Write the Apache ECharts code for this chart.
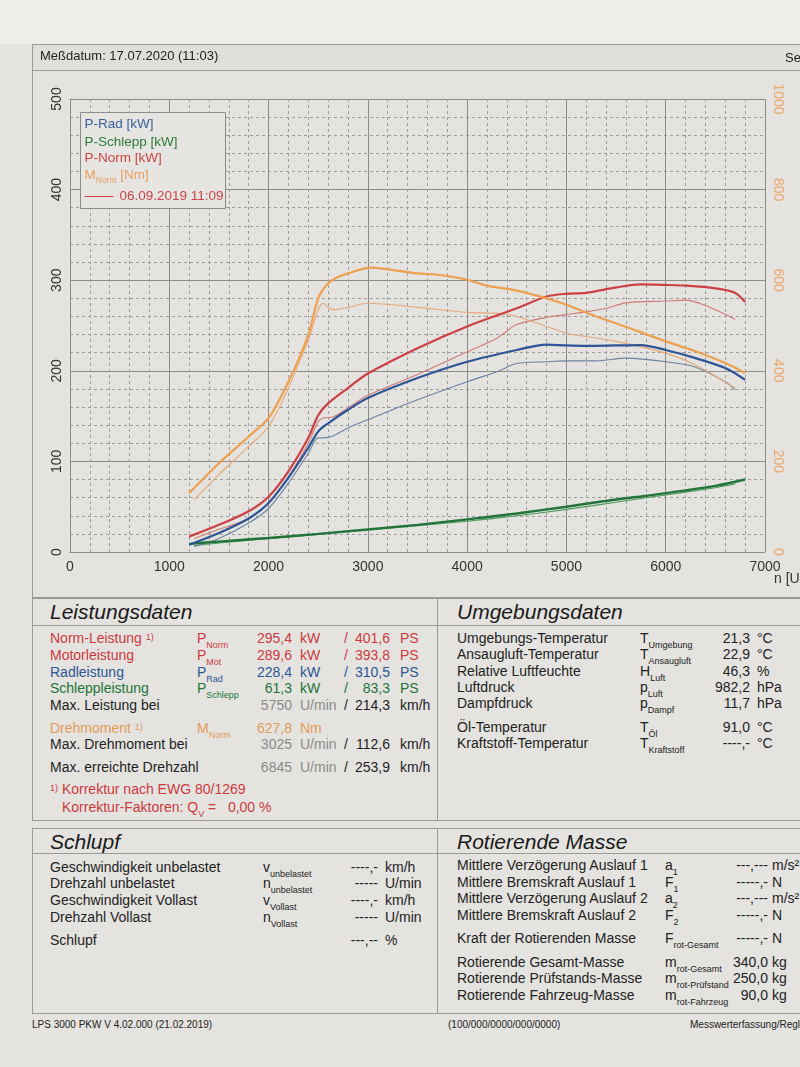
<!DOCTYPE html>
<html><head><meta charset="utf-8">
<script src="https://cdn.jsdelivr.net/npm/echarts@6/dist/echarts.min.js"></script>
<style>
html,body{margin:0;padding:0;}
body{width:800px;height:1067px;overflow:hidden;position:relative;background:#e4e3df;font-family:"Liberation Sans",Arial,sans-serif;color:#222;}
.a{position:absolute;white-space:nowrap;font-size:14px;line-height:18px;}
.ln{position:absolute;background:#9a9a98;}
.title{font-style:italic;font-size:21px;line-height:24px;color:#1a1a1a;}
sub{font-size:9px;vertical-align:-5px;line-height:0;}
sup{font-size:9px;vertical-align:3px;line-height:0;}
#chart{position:absolute;left:0;top:0;width:800px;height:600px;}
</style></head>
<body>
<div style="position:absolute;left:0;top:0;width:800px;height:44px;background:#eeede9"></div>
<div style="position:absolute;left:32px;top:44px;width:780px;height:25px;background:#e0dfdb;border-top:1px solid #9a9a98;border-left:1px solid #9a9a98;border-bottom:1px solid #9a9a98"></div>
<div class="ln" style="left:32px;top:69px;width:1px;height:529px"></div>
<div class="ln" style="left:32px;top:597px;width:768px;height:1px"></div>
<div id="chart"></div>
<div id="txt"></div>
<script>
// ---------- chart data ----------
const xTicks = [0,1000,2000,3000,4000,5000,6000,7000];
const rpmNormNow = [1200,1500,1800,2000,2200,2400,2500,2600,2800,3000,3500,4000,4500,4800,5000,5200,5500,5750,6000,6200,6500,6700,6800];
const pNormNow   = [17,30,45,61,89,126,151,164,181,197,225,249,269,282,285,286,292,295.4,294.8,294,291,286,276];
const rpmRadNow  = [1200,1500,1800,2000,2200,2400,2500,2600,2800,3000,3500,4000,4500,4800,5000,5200,5500,5750,6000,6300,6600,6800];
const pRadNow    = [8,21,37,54,82,115,133,142,157,170,192,210,223,229,228,227.5,228,228.4,223,214,203,190];
const rpmSchleppNow = [1200,1500,2000,2500,3000,3500,4000,4500,5000,5500,5750,6000,6500,6800];
const pSchleppNow   = [9,11.5,15.5,20,25,30,36,42.5,50,58,61.3,65,73,80];
const rpmMNow = [1200,1500,1800,2000,2200,2400,2500,2600,2700,2800,3025,3200,3500,3700,4000,4200,4500,4800,5000,5300,5500,6000,6300,6600,6800];
const mNormNow = [130,196,255,296,376,479,560,593,607,615,627.8,624,615,612,601,588,577,560,546,520,505,465,443,417,395];

const rpmNormRef = [1250,1500,1800,2000,2200,2400,2500,2550,2650,2800,3000,3500,4000,4300,4500,4800,5000,5200,5400,5600,6000,6200,6400,6700];
const pNormRef   = [15,25,37,54,83,120,144,148,149,159,173,196,221,236,251,259,262,265,269,275,277,278,272,257];
const rpmRadRef  = [1250,1500,1800,2000,2200,2400,2500,2550,2650,2800,3000,3500,4000,4300,4500,4800,5000,5300,5600,6000,6300,6600,6700];
const pRadRef    = [6,15,32,48,76,109,126,126,128,137,146,168,188,199,208,210,211,211,214,210,204,188,179];
const rpmSchleppRef = [1250,1500,2000,2500,3000,3500,4000,4500,5000,5500,6000,6500,6700];
const pSchleppRef   = [7,10,15,19.5,24,29,34,40,47,55,63,71,75];
const rpmMRef = [1250,1500,1800,2000,2200,2400,2550,2650,2800,3000,3500,4000,4400,4800,5000,5500,6000,6300,6700];
const mNormRef = [115,171,233,277,362,468,549,535,540,549,540,529,525,498,483,465,439,413,362];

const zip = (a,b) => a.map((v,i)=>[v,b[i]]);
const plain = v => String(v);

const chart = echarts.init(document.getElementById('chart'), null, {renderer:'canvas'});
function line(name, xs, ys, color, w, yi){
  return {name, type:'line', yAxisIndex:yi, data:zip(xs,ys), smooth:0.3, showSymbol:false, symbol:'none',
    lineStyle:{color, width:w}, z: w>1.5?4:3, animation:false};
}
const minorDash = {show:true, lineStyle:{color:'#9c9c9a', width:1, type:[3,3]}};
const LF = 'Liberation Sans';
chart.setOption({
  backgroundColor:'transparent',
  animation:false,
  grid:{left:70, top:99, width:695, height:453},
  xAxis:{type:'value', min:0, max:7000, interval:1000,
    axisLine:{show:true, lineStyle:{color:'#8c8c8a'}}, axisTick:{show:false},
    axisLabel:{color:'#333', fontSize:14, margin:8, fontFamily:LF, formatter:plain},
    splitLine:{show:true, lineStyle:{color:'#8c8c8a', width:1}},
    minorTick:{show:true, splitNumber:5, length:0}, minorSplitLine:minorDash},
  yAxis:[
    {type:'value', position:'left', min:0, max:500, interval:100,
     axisLine:{show:true, lineStyle:{color:'#8c8c8a'}}, axisTick:{show:false},
     axisLabel:{color:'#333', fontSize:14, rotate:90, margin:6, fontFamily:LF, formatter:plain},
     splitLine:{show:true, lineStyle:{color:'#8c8c8a', width:1}},
     minorTick:{show:true, splitNumber:5, length:0}, minorSplitLine:minorDash},
    {type:'value', position:'right', min:0, max:1000, interval:200,
     axisLine:{show:false}, axisTick:{show:false}, splitLine:{show:false},
     axisLabel:{color:'#eaa86a', fontSize:14, rotate:-90, margin:6, fontFamily:LF, formatter:plain}}
  ],
  graphic:[
    {type:'text', left:774, top:572, style:{text:'n [U/min]', fill:'#333', font:'14px "Liberation Sans"'}},
    {type:'group', left:80, top:112, z:100, children:[
      {type:'rect', z:100, shape:{x:0,y:0,width:145,height:96}, style:{fill:'#e6e5e1', stroke:'#8c8c8a', lineWidth:1}},
      {type:'text', z:101, x:4, y:12, style:{text:'P-Rad [kW]', fill:'#3a5f9c', font:'13.5px "Liberation Sans"', verticalAlign:'middle'}},
      {type:'text', z:101, x:4, y:30, style:{text:'P-Schlepp [kW]', fill:'#2c7a3a', font:'13.5px "Liberation Sans"', verticalAlign:'middle'}},
      {type:'text', z:101, x:4, y:46, style:{text:'P-Norm [kW]', fill:'#cc4448', font:'13.5px "Liberation Sans"', verticalAlign:'middle'}},
      {type:'text', z:101, x:4, y:63, style:{text:'{a|M}{b|Norm}{a| [Nm]}', verticalAlign:'middle', rich:{
          a:{fill:'#e8a060', fontSize:13.5, fontFamily:LF, verticalAlign:'bottom'},
          b:{fill:'#e8a060', fontSize:8.5, fontFamily:LF, verticalAlign:'bottom', padding:[0,0,-3,0]}}}},
      {type:'line', z:101, shape:{x1:4,y1:84,x2:33,y2:84}, style:{stroke:'#cc4448', lineWidth:1}},
      {type:'text', z:101, x:39, y:84, style:{text:'06.09.2019 11:09', fill:'#cc4448', font:'13.5px "Liberation Sans"', verticalAlign:'middle'}}
    ]}
  ],
  series:[
    line('P-Schlepp ref', rpmSchleppRef, pSchleppRef, '#4a9a58', 1.1, 0),
    line('P-Rad ref', rpmRadRef, pRadRef, '#6c82a2', 1.1, 0),
    line('P-Norm ref', rpmNormRef, pNormRef, '#cf7a78', 1.1, 0),
    line('M-Norm ref', rpmMRef, mNormRef, '#e6a878', 1.1, 1),
    line('P-Schlepp', rpmSchleppNow, pSchleppNow, '#22743a', 2.4, 0),
    line('P-Rad', rpmRadNow, pRadNow, '#2d5596', 2.2, 0),
    line('P-Norm', rpmNormNow, pNormNow, '#cc4045', 2.2, 0),
    line('M-Norm', rpmMNow, mNormNow, '#eca050', 2.2, 1)
  ]
});

// ---------- text panels ----------
const box = document.getElementById('txt');
function add(html, x, y, opts){
  opts = opts || {};
  const d = document.createElement('div');
  d.className = 'a' + (opts.cls ? ' '+opts.cls : '');
  d.innerHTML = html;
  d.style.top = (y - (opts.cls==='title'?12:9)) + 'px';
  if (opts.right) { d.style.right = (800 - x) + 'px'; d.style.textAlign='right'; }
  else d.style.left = x + 'px';
  if (opts.color) d.style.color = opts.color;
  if (opts.size) d.style.fontSize = opts.size + 'px';
  box.appendChild(d);
}
function hl(x,y,w){const d=document.createElement('div');d.className='ln';d.style.cssText=`left:${x}px;top:${y}px;width:${w}px;height:1px`;box.appendChild(d);}
function vl(x,y,h){const d=document.createElement('div');d.className='ln';d.style.cssText=`left:${x}px;top:${y}px;width:1px;height:${h}px`;box.appendChild(d);}

add('Meßdatum: 17.07.2020 (11:03)', 40, 56, {size:13});
add('Seite', 785, 58, {size:13});

// frames
hl(32,598,768); hl(32,625,768); hl(32,820,768); hl(32,828,768); hl(32,853,768); hl(32,1013,768);
vl(32,598,222); vl(437,598,222); vl(32,828,185); vl(437,828,185);

add('Leistungsdaten', 50, 612, {cls:'title'});
add('Umgebungsdaten', 457, 612, {cls:'title'});
add('Schlupf', 50, 842, {cls:'title'});
add('Rotierende Masse', 457, 842, {cls:'title'});

const RED='#cc3a3e', BLUE='#2d5596', GREEN='#22743a', ORANGE='#e39a58', GRAY='#8a8a88', BLK='#1e1e1e';
const leist = [
  [638,'Norm-Leistung <sup>1)</sup>','P<sub>Norm</sub>','295,4','kW','/','401,6','PS',RED,RED],
  [655,'Motorleistung','P<sub>Mot</sub>','289,6','kW','/','393,8','PS',RED,RED],
  [672,'Radleistung','P<sub>Rad</sub>','228,4','kW','/','310,5','PS',BLUE,BLUE],
  [688,'Schleppleistung','P<sub>Schlepp</sub>','61,3','kW','/','83,3','PS',GREEN,GREEN],
  [705,'Max. Leistung bei','','5750','U/min','/','214,3','km/h',BLK,GRAY],
  [728,'Drehmoment <sup>1)</sup>','M<sub>Norm</sub>','627,8','Nm','','','',ORANGE,ORANGE],
  [744,'Max. Drehmoment bei','','3025','U/min','/','112,6','km/h',BLK,GRAY],
  [767,'Max. erreichte Drehzahl','','6845','U/min','/','253,9','km/h',BLK,GRAY]
];
leist.forEach(r=>{
  const [y,l,s,v1,u1,sl,v2,u2,c,cv]=r;
  add(l,50,y,{color:c});
  if(s) add(s,197,y,{color:c});
  add(v1,292,y,{right:true,color:cv});
  add(u1,300,y,{color:cv});
  if(sl) add(sl,344,y,{color: c===BLK?BLK:c});
  if(v2) add(v2,390,y,{right:true,color:c});
  if(u2) add(u2,400,y,{color:c});
});
add('<sup>1)</sup> Korrektur nach EWG 80/1269',50,789,{color:RED});
add('Korrektur-Faktoren: Q<sub>V</sub> =&nbsp;&nbsp; 0,00 %',62,807,{color:RED});

const umg = [
  [638,'Umgebungs-Temperatur','T<sub>Umgebung</sub>','21,3','°C'],
  [654,'Ansaugluft-Temperatur','T<sub>Ansaugluft</sub>','22,9','°C'],
  [671,'Relative Luftfeuchte','H<sub>Luft</sub>','46,3','%'],
  [687,'Luftdruck','p<sub>Luft</sub>','982,2','hPa'],
  [703,'Dampfdruck','p<sub>Dampf</sub>','11,7','hPa'],
  [727,'Öl-Temperatur','T<sub>Öl</sub>','91,0','°C'],
  [743,'Kraftstoff-Temperatur','T<sub>Kraftstoff</sub>','----,-','°C']
];
umg.forEach(([y,l,s,v,u])=>{add(l,457,y);add(s,640,y);add(v,750,y,{right:true});add(u,757,y);});

const schl = [
  [867,'Geschwindigkeit unbelastet','v<sub>unbelastet</sub>','----,-','km/h'],
  [883,'Drehzahl unbelastet','n<sub>unbelastet</sub>','-----','U/min'],
  [900,'Geschwindigkeit Vollast','v<sub>Vollast</sub>','----,-','km/h'],
  [917,'Drehzahl Vollast','n<sub>Vollast</sub>','-----','U/min'],
  [940,'Schlupf','','---,--','%']
];
schl.forEach(([y,l,s,v,u])=>{add(l,50,y);if(s)add(s,263,y);add(v,378,y,{right:true});add(u,385,y);});

const rot = [
  [865,'Mittlere Verzögerung Auslauf 1','a<sub>1</sub>','---,---','m/s²'],
  [882,'Mittlere Bremskraft Auslauf 1','F<sub>1</sub>','-----,-','N'],
  [898,'Mittlere Verzögerung Auslauf 2','a<sub>2</sub>','---,---','m/s²'],
  [915,'Mittlere Bremskraft Auslauf 2','F<sub>2</sub>','-----,-','N'],
  [938,'Kraft der Rotierenden Masse','F<sub>rot-Gesamt</sub>','-----,-','N'],
  [962,'Rotierende Gesamt-Masse','m<sub>rot-Gesamt</sub>','340,0','kg'],
  [978,'Rotierende Prüfstands-Masse','m<sub>rot-Prüfstand</sub>','250,0','kg'],
  [995,'Rotierende Fahrzeug-Masse','m<sub>rot-Fahrzeug</sub>','90,0','kg']
];
rot.forEach(([y,l,s,v,u])=>{add(l,457,y);add(s,665,y);add(v,768,y,{right:true});add(u,772,y);});

add('LPS 3000 PKW V 4.02.000 (21.02.2019)',32,1025,{size:10});
add('(100/000/0000/000/0000)',448,1025,{size:10});
add('Messwerterfassung/Regler',690,1025,{size:10});
</script>
</body></html>
